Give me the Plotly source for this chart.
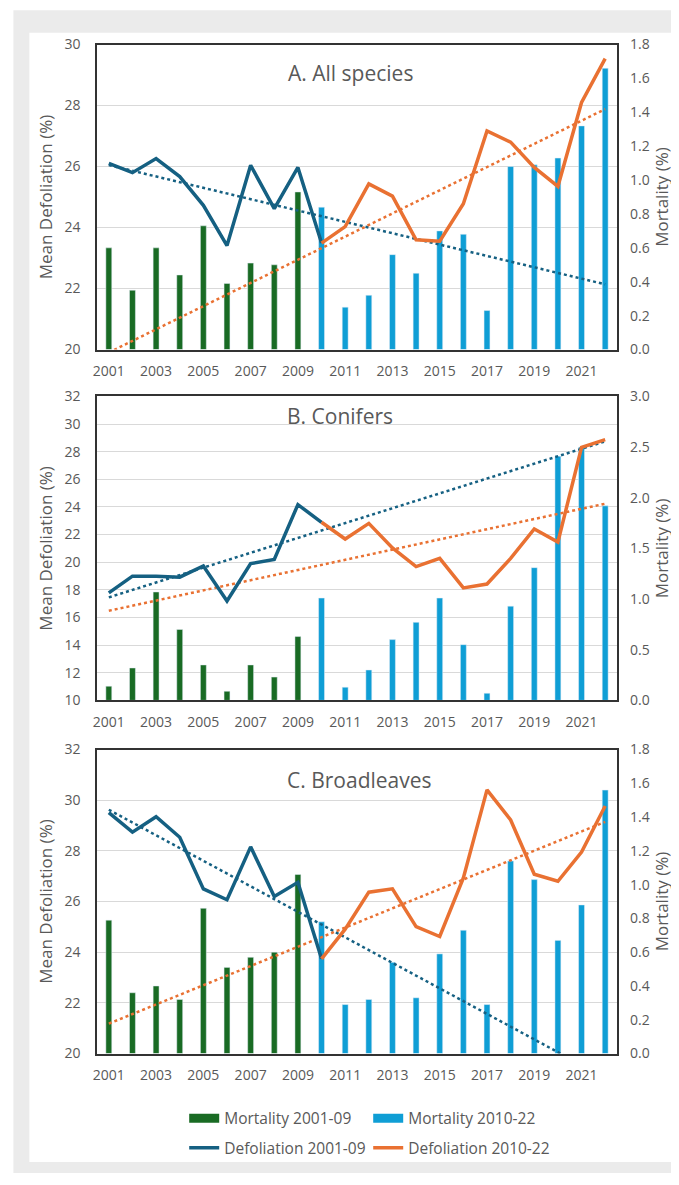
import numpy as np
import plotly.graph_objects as go

# the page adds an 8px body margin, so the figure is kept inside the window
OFF = 8
W, H = 671, 1165
ML, MR = 88.7, 61.7  # plot area = x extent of the panels (figure px)

years = list(range(2001, 2023))
years_early = years[:10]   # 2001-2010 (2010 joins both lines)
years_late = years[9:]     # 2010-2022
bar_years_early = years[:9]
bar_years_late = years[9:]
tick_years = years[::2]
tick_text = [str(y) for y in tick_years]

# A. All species
defol_a_early = [26.10, 25.80, 26.26, 25.67, 24.73, 23.41, 26.04, 24.62, 25.97, 23.49]
defol_a_late = [23.49, 24.03, 25.43, 25.03, 23.60, 23.55, 24.78, 27.17, 26.80, 25.97, 25.35, 28.10, 29.54]
mort_a_early = [0.60, 0.35, 0.60, 0.44, 0.73, 0.39, 0.51, 0.50, 0.93]
mort_a_late = [0.84, 0.25, 0.32, 0.56, 0.45, 0.70, 0.68, 0.23, 1.08, 1.09, 1.13, 1.32, 1.66]

# B. Conifers
defol_b_early = [17.78, 18.99, 18.99, 18.92, 19.73, 17.19, 19.90, 20.20, 24.17, 22.89]
defol_b_late = [22.89, 21.68, 22.81, 21.03, 19.68, 20.28, 18.14, 18.42, 20.28, 22.41, 21.46, 28.32, 28.87]
mort_b_early = [0.14, 0.32, 1.07, 0.70, 0.35, 0.09, 0.35, 0.23, 0.63]
mort_b_late = [1.01, 0.13, 0.30, 0.60, 0.77, 1.01, 0.55, 0.07, 0.93, 1.31, 2.41, 2.50, 1.92]

# C. Broadleaves
defol_c_early = [29.51, 28.74, 29.35, 28.54, 26.50, 26.07, 28.16, 26.20, 26.76, 23.74]
defol_c_late = [23.74, 24.91, 26.37, 26.50, 25.01, 24.62, 26.93, 30.41, 29.22, 27.08, 26.80, 27.95, 29.77]
mort_c_early = [0.79, 0.36, 0.40, 0.32, 0.86, 0.51, 0.57, 0.60, 1.06]
mort_c_late = [0.78, 0.29, 0.32, 0.54, 0.33, 0.59, 0.73, 0.29, 1.14, 1.03, 0.67, 0.88, 1.56]

panels = [
    dict(title="A. All species", d1=defol_a_early, d2=defol_a_late, m1=mort_a_early, m2=mort_a_late,
         drange=[20, 30], mrange=[0, 1.8], mdtick=0.2, top=35, bottom=345, tx=350, ty=64),
    dict(title="B. Conifers", d1=defol_b_early, d2=defol_b_late, m1=mort_b_early, m2=mort_b_late,
         drange=[10, 32], mrange=[0, 3.0], mdtick=0.5, top=392.7, bottom=701.7, tx=340, ty=413),
    dict(title="C. Broadleaves", d1=defol_c_early, d2=defol_c_late, m1=mort_c_early, m2=mort_c_late,
         drange=[20, 32], mrange=[0, 1.8], mdtick=0.2, top=751.7, bottom=1060.7, tx=360, ty=783),
]

GREEN = "#196B24"
LBLUE = "#0F9ED5"
DBLUE = "#156082"
ORANGE = "#E97132"
TXT = "#595959"
FONT = "Open Sans"


# page pixel -> paper coordinate
def px_x(px):
    return (px - OFF - ML) / (W - ML - MR)


def px_y(py):
    return 1 - (py - OFF) / H


fig = go.Figure()
layout = {}
annotations = []

for i, p in enumerate(panels):
    n = i + 1
    xa = "x" if n == 1 else f"x{n}"
    ym = "y" if n == 1 else f"y{2 * n - 1}"   # mortality (right)
    yd = f"y{2 * n}"                         # defoliation (left)

    fig.add_trace(go.Bar(x=bar_years_early, y=p["m1"], marker_color=GREEN, width=0.25,
                         xaxis=xa, yaxis=ym, showlegend=False, name="Mortality 2001-09"))
    fig.add_trace(go.Bar(x=bar_years_late, y=p["m2"], marker_color=LBLUE, width=0.25,
                         xaxis=xa, yaxis=ym, showlegend=False, name="Mortality 2010-22"))

    # linear trendlines, extended over the whole period like in Excel
    k1 = np.polyfit(years_early, p["d1"], 1)
    k2 = np.polyfit(years_late, p["d2"], 1)
    ends = [years[0], years[-1]]
    fig.add_trace(go.Scatter(x=ends, y=np.polyval(k1, ends), mode="lines",
                             line=dict(color=DBLUE, width=2.5, dash="dot"),
                             xaxis=xa, yaxis=yd, showlegend=False, hoverinfo="skip"))
    fig.add_trace(go.Scatter(x=ends, y=np.polyval(k2, ends), mode="lines",
                             line=dict(color=ORANGE, width=2.5, dash="dot"),
                             xaxis=xa, yaxis=yd, showlegend=False, hoverinfo="skip"))

    fig.add_trace(go.Scatter(x=years_early, y=p["d1"], mode="lines", line=dict(color=DBLUE, width=3.5),
                             xaxis=xa, yaxis=yd, showlegend=False, name="Defoliation 2001-09"))
    fig.add_trace(go.Scatter(x=years_late, y=p["d2"], mode="lines", line=dict(color=ORANGE, width=3.5),
                             xaxis=xa, yaxis=yd, showlegend=False, name="Defoliation 2010-22"))

    dom = [px_y(p["bottom"]), px_y(p["top"])]
    xkey = "xaxis" if n == 1 else f"xaxis{n}"
    layout[xkey] = dict(domain=[0, 1], range=[2000.5, 2022.5], anchor=yd, tickvals=tick_years,
                        ticktext=tick_text, showgrid=False, showline=True, mirror=True,
                        linecolor="#333333", linewidth=1.5, ticks="", ticklabelstandoff=8,
                        tickfont=dict(size=14, color=TXT))
    ymkey = "yaxis" if n == 1 else f"yaxis{2 * n - 1}"
    layout[ymkey] = dict(domain=dom, range=p["mrange"], dtick=p["mdtick"], side="right", anchor=xa,
                         tickformat=".1f", showgrid=False, zeroline=False, ticks="", ticklabelstandoff=12,
                         tickfont=dict(size=14, color=TXT),
                         title=dict(text="Mortality (%)", font=dict(size=17, color=TXT), standoff=6))
    layout[f"yaxis{2 * n}"] = dict(range=p["drange"], dtick=2, side="left", overlaying=ym, anchor=xa,
                                   showgrid=True, gridcolor="#d9d9d9", gridwidth=1, zeroline=False,
                                   showline=True, mirror=True, linecolor="#333333", linewidth=1.5,
                                   ticks="", ticklabelstandoff=12, tickfont=dict(size=14, color=TXT),
                                   title=dict(text="Mean Defoliation (%)", font=dict(size=17, color=TXT),
                                              standoff=7))
    annotations.append(dict(text=p["title"], x=px_x(p["tx"]), y=px_y(p["ty"]), xref="paper", yref="paper",
                            xanchor="center", yanchor="middle", showarrow=False,
                            font=dict(size=21, color=TXT)))

# legend entries (wide symbols like the original)
legend_items = [
    ("Mortality 2001-09", GREEN, 9, "legend"),
    ("Mortality 2010-22", LBLUE, 9, "legend"),
    ("Defoliation 2001-09", DBLUE, 3.5, "legend2"),
    ("Defoliation 2010-22", ORANGE, 3.5, "legend2"),
]
for name, color, lw, lg in legend_items:
    fig.add_trace(go.Scatter(x=[None], y=[None], mode="lines", name=name, legend=lg,
                             line=dict(color=color, width=lw), xaxis="x", yaxis="y"))

legend_style = dict(orientation="h", xanchor="left", yanchor="middle", x=px_x(184),
                    entrywidth=139, entrywidthmode="pixels", bgcolor="rgba(0,0,0,0)",
                    font=dict(size=15.5, color=TXT, family=FONT), itemwidth=30)

shapes = [
    dict(type="rect", xref="paper", yref="paper", x0=px_x(13), x1=px_x(700), y0=px_y(0), y1=px_y(1200),
         fillcolor="#ebebeb", line_width=0, layer="below"),
    dict(type="rect", xref="paper", yref="paper", x0=px_x(29), x1=px_x(700), y0=px_y(23), y1=px_y(1171),
         fillcolor="white", line_width=0, layer="below"),
]

fig.update_layout(
    width=W, height=H,
    margin=dict(l=ML, r=MR, t=0, b=0),
    paper_bgcolor="white", plot_bgcolor="white",
    font=dict(family=FONT, color=TXT),
    barmode="overlay",
    legend=dict(legend_style, y=px_y(1127)),
    legend2=dict(legend_style, y=px_y(1157)),
    annotations=annotations,
    shapes=shapes,
    **layout,
)

fig.write_html("out.html")
